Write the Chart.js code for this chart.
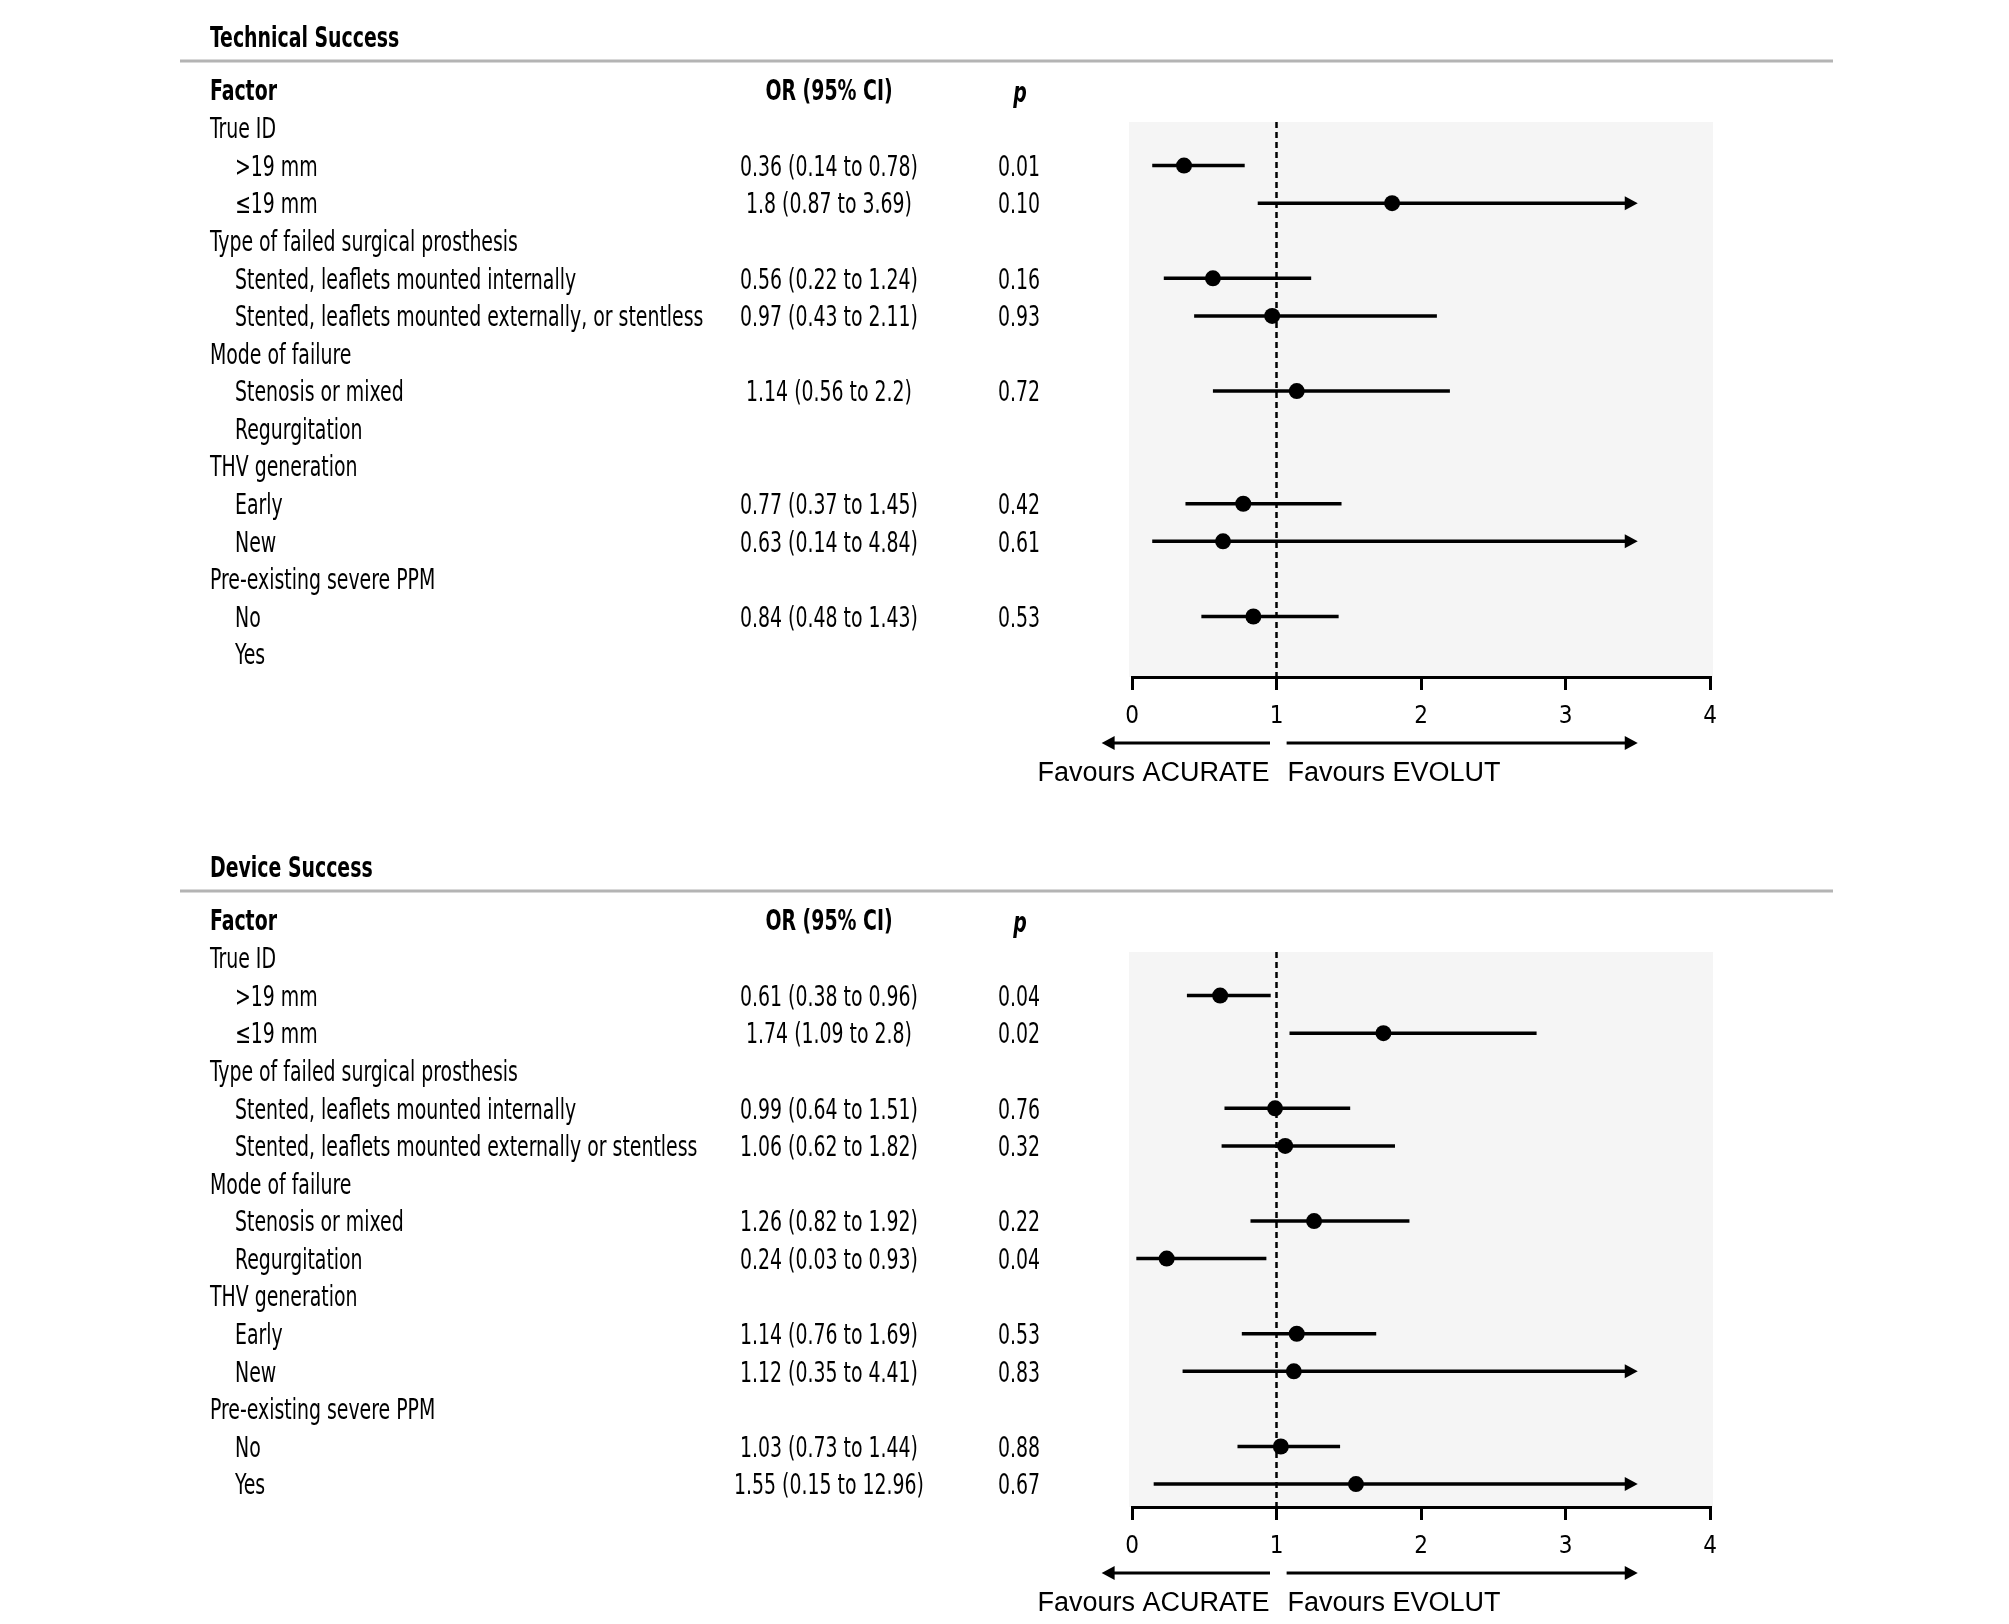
<!DOCTYPE html>
<html>
<head>
<meta charset="utf-8">
<script src="https://cdn.jsdelivr.net/npm/chart.js@4.4.1/dist/chart.umd.min.js"></script>
<style>
  body { margin: 0; background: #fff; }
  canvas { position: absolute; left: 0; }
</style>
</head>
<body>
<canvas id="tech" width="2009" height="830" style="top:0"></canvas>
<canvas id="device" width="2009" height="794" style="top:830px"></canvas>
<script>
// rows shared by both panels
const factors = ["True ID", ">19 mm", "≤19 mm", "Type of failed surgical prosthesis",
  "Stented, leaflets mounted internally", "Stented, leaflets mounted externally, or stentless",
  "Mode of failure", "Stenosis or mixed", "Regurgitation", "THV generation",
  "Early", "New", "Pre-existing severe PPM", "No", "Yes"];
const deviceFactors = factors.slice();
deviceFactors[5] = "Stented, leaflets mounted externally or stentless";
const indent = [0, 1, 1, 0, 1, 1, 0, 1, 1, 0, 1, 1, 0, 1, 1];

// Technical success
const techOR   = [null, 0.36, 1.8,  null, 0.56, 0.97, null, 1.14, null, null, 0.77, 0.63, null, 0.84, null];
const techLow  = [null, 0.14, 0.87, null, 0.22, 0.43, null, 0.56, null, null, 0.37, 0.14, null, 0.48, null];
const techHigh = [null, 0.78, 3.69, null, 1.24, 2.11, null, 2.2,  null, null, 1.45, 4.84, null, 1.43, null];
const techP    = ["", "0.01", "0.10", "", "0.16", "0.93", "", "0.72", "", "", "0.42", "0.61", "", "0.53", ""];

// Device success
const devOR   = [null, 0.61, 1.74, null, 0.99, 1.06, null, 1.26, 0.24, null, 1.14, 1.12, null, 1.03, 1.55];
const devLow  = [null, 0.38, 1.09, null, 0.64, 0.62, null, 0.82, 0.03, null, 0.76, 0.35, null, 0.73, 0.15];
const devHigh = [null, 0.96, 2.8,  null, 1.51, 1.82, null, 1.92, 0.93, null, 1.69, 4.41, null, 1.44, 12.96];
const devP    = ["", "0.04", "0.02", "", "0.76", "0.32", "", "0.22", "0.04", "", "0.53", "0.83", "", "0.88", "0.67"];

const xTicks = [0, 1, 2, 3, 4];
const arrowCap = 3.5;

const NARROW = '"Liberation Sans Narrow", "DejaVu Sans Condensed", sans-serif';
const SX = 0.75;

function txt(ctx, s, x, y, font, align, sx) {
  ctx.save();
  ctx.font = font;
  ctx.textAlign = align || 'left';
  ctx.textBaseline = 'middle';
  ctx.fillStyle = '#000';
  ctx.translate(x, y);
  ctx.scale(sx || 1, 1);
  ctx.fillText(s, 0, 0);
  ctx.restore();
}

function arrowLine(ctx, x1, x2, y, head) {
  const d = Math.sign(x2 - x1);
  ctx.beginPath();
  ctx.moveTo(x1, y);
  ctx.lineTo(head ? x2 - d * 8 : x2, y);
  ctx.stroke();
  if (head) {
    ctx.beginPath();
    ctx.moveTo(x2, y);
    ctx.lineTo(x2 - d * 13, y - 7);
    ctx.lineTo(x2 - d * 13, y + 7);
    ctx.closePath();
    ctx.fill();
  }
}

const forest = {
  id: 'forest',
  beforeDraw(chart) {
    const { ctx, chartArea: a } = chart;
    ctx.save();
    ctx.fillStyle = '#f5f5f5';
    ctx.fillRect(a.left - 3, a.top, a.right - a.left + 6, a.bottom - a.top);
    ctx.restore();
  },
  beforeDatasetsDraw(chart, args, o) {
    const { ctx, chartArea: a } = chart;
    const xs = chart.scales.x, ys = chart.scales.y;
    ctx.save();
    // reference line at OR = 1
    ctx.strokeStyle = '#000';
    ctx.lineWidth = 2.5;
    ctx.setLineDash([6, 4]);
    ctx.beginPath();
    ctx.moveTo(xs.getPixelForValue(1), a.top);
    ctx.lineTo(xs.getPixelForValue(1), a.bottom);
    ctx.stroke();
    ctx.setLineDash([]);
    // confidence intervals
    ctx.lineWidth = 3.5;
    ctx.fillStyle = '#000';
    o.or.forEach((v, i) => {
      if (v === null) return;
      const y = ys.getPixelForValue(i);
      const hi = Math.min(o.hi[i], arrowCap);
      arrowLine(ctx, xs.getPixelForValue(o.lo[i]), xs.getPixelForValue(hi), y, o.hi[i] > arrowCap);
    });
    ctx.restore();
  },
  afterDraw(chart, args, o) {
    const { ctx, chartArea: a } = chart;
    const xs = chart.scales.x, ys = chart.scales.y;
    const body = '28px ' + NARROW;
    const bold = 'bold 28px ' + NARROW;
    txt(ctx, o.title, 210, 40, bold, 'left', SX);
    ctx.save();
    ctx.strokeStyle = '#b4b4b4';
    ctx.lineWidth = 3;
    ctx.beginPath();
    ctx.moveTo(180, 61);
    ctx.lineTo(1833, 61);
    ctx.stroke();
    ctx.restore();
    txt(ctx, 'Factor', 210, 93, bold, 'left', SX);
    txt(ctx, 'OR (95% CI)', 829, 93, bold, 'center', SX);
    txt(ctx, 'p', 1020, 95, 'italic bold 28px ' + NARROW, 'center', SX);
    o.labels.forEach((lab, i) => {
      const y = ys.getPixelForValue(i) + 3;
      txt(ctx, lab, indent[i] ? 235 : 210, y, body, 'left', SX);
      if (o.or[i] !== null) {
        txt(ctx, o.or[i] + ' (' + o.lo[i] + ' to ' + o.hi[i] + ')', 829, y, body, 'center', SX);
        txt(ctx, o.p[i], 1019, y, body, 'center', SX);
      }
    });
    // favours arrows
    ctx.save();
    ctx.strokeStyle = '#000';
    ctx.fillStyle = '#000';
    ctx.lineWidth = 3;
    const ay = a.bottom + 66;
    arrowLine(ctx, xs.getPixelForValue(0.955), xs.getPixelForValue(-0.21), ay, true);
    arrowLine(ctx, xs.getPixelForValue(1.07), xs.getPixelForValue(arrowCap), ay, true);
    ctx.restore();
    const fy = a.bottom + 97;
    const sans = '27px "Liberation Sans", Arial, sans-serif';
    txt(ctx, 'Favours ACURATE', xs.getPixelForValue(1) - 7, fy, sans, 'right', 1);
    txt(ctx, 'Favours EVOLUT', xs.getPixelForValue(1) + 11, fy, sans, 'left', 1);
  }
};

function makeChart(id, title, labels, or, lo, hi, p, h) {
  const pts = or.map((v, i) => v === null ? null : { x: v, y: i }).filter(Boolean);
  return new Chart(document.getElementById(id), {
    type: 'scatter',
    data: {
      datasets: [{
        data: pts,
        pointRadius: 8,
        pointHoverRadius: 8,
        backgroundColor: '#000',
        borderWidth: 0
      }]
    },
    options: {
      responsive: false,
      animation: false,
      devicePixelRatio: 1,
      layout: { padding: { left: 1132, right: 299, top: 122, bottom: h - 677 - 60 } },
      scales: {
        x: {
          type: 'linear',
          min: 0,
          max: 4,
          afterBuildTicks: s => { s.ticks = xTicks.map(v => ({ value: v })); },
          afterFit: s => { s.height = 60; },
          border: { color: '#000', width: 3 },
          grid: { drawOnChartArea: false, tickLength: 13, color: '#000', lineWidth: 3 },
          ticks: { color: '#000', padding: 12, font: { family: NARROW, size: 24 } }
        },
        y: {
          type: 'linear',
          reverse: true,
          min: -0.16,
          max: 14.61,
          display: false
        }
      },
      plugins: {
        legend: { display: false },
        tooltip: { enabled: false },
        forest: { title, labels, or, lo, hi, p }
      }
    },
    plugins: [forest]
  });
}

makeChart('tech', 'Technical Success', factors, techOR, techLow, techHigh, techP, 830);
makeChart('device', 'Device Success', deviceFactors, devOR, devLow, devHigh, devP, 794);
</script>
</body>
</html>
